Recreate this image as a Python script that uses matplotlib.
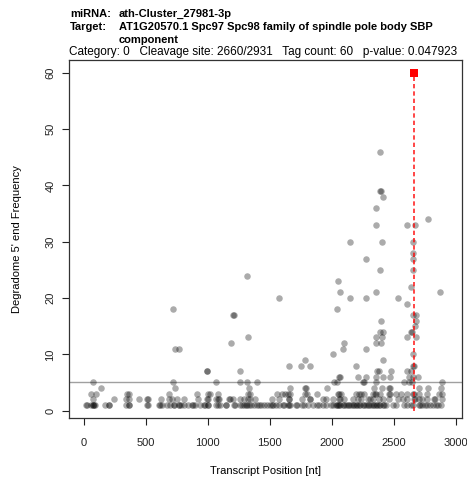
import matplotlib
matplotlib.use("Agg")
import matplotlib.pyplot as plt

plt.rcParams['font.family'] = ['Liberation Sans', 'DejaVu Sans']

# header info
mirna = "ath-Cluster_27981-3p"
target_lines = ["AT1G20570.1 Spc97 Spc98 family of spindle pole body SBP", "component"]
category = 0
cleavage_site = 2660
transcript_len = 2931
tag_count = 60
p_value = 0.047923
threshold = 5

# degradome tags: transcript positions grouped by 5' end frequency
pos_f1 = [21, 26, 54, 72, 75, 86, 89, 174, 201, 207, 341, 362, 365, 513, 518, 604, 612,
          630, 671, 698, 725, 730, 765, 770, 780, 805, 840, 872, 878, 899, 934, 966, 974,
          998, 1001, 1067, 1081, 1102, 1145, 1148, 1212, 1216, 1256, 1277, 1290, 1305,
          1320, 1336, 1350, 1371, 1395, 1417, 1430, 1457, 1478, 1498, 1516, 1524, 1551,
          1578, 1605, 1616, 1645, 1653, 1664, 1712, 1717, 1758, 1779, 1806, 1846, 1881,
          1900, 1927, 1954, 1990, 2008, 2034, 2040, 2050, 2061, 2070, 2088, 2100, 2115,
          2130, 2142, 2155, 2168, 2180, 2195, 2205, 2222, 2230, 2249, 2260, 2276, 2290,
          2303, 2315, 2329, 2340, 2356, 2365, 2383, 2390, 2410, 2420, 2437, 2496, 2517,
          2585, 2611, 2638, 2657, 2700, 2715, 2732, 2750, 2772, 2790, 2813, 2840, 2860,
          2880]
pos_f2 = [70, 247, 340, 365, 443, 513, 518, 620, 684, 714, 751, 808, 921, 990, 1001,
          1067, 1081, 1094, 1175, 1181, 1200, 1256, 1296, 1323, 1339, 1382, 1516, 1578,
          1653, 1658, 1758, 1822, 1826, 1932, 1954, 2008, 2061, 2066, 2102, 2168, 2208,
          2235, 2290, 2310, 2329, 2383, 2410, 2464, 2531, 2571, 2611, 2662, 2668, 2705,
          2732, 2772, 2826, 2830, 2893]
pos_f3 = [54, 98, 349, 367, 688, 910, 1001, 1017, 1081, 1325, 1339, 1556, 1597, 1620,
          1650, 1664, 1784, 1800, 1878, 2048, 2061, 2075, 2195, 2220, 2235, 2262, 2329,
          2350, 2356, 2392, 2464, 2468, 2520, 2560, 2611, 2655, 2665, 2705, 2772, 2866,
          2890]
pos_f4 = [139, 737, 1336, 1667, 1785, 1790, 1965, 2340, 2405, 2461, 2466, 2702, 2775,
          2882]
pos_f5 = [72, 722, 1063, 1256, 1318, 1395, 2021, 2042, 2249, 2263, 2356, 2585, 2620,
          2650, 2888]
pos_f6 = [2061, 2065, 2214, 2276, 2356, 2410, 2469, 2620, 2657, 2692]
pos_f7 = [990, 995, 1256, 2364, 2383, 2477, 2611, 2640]
pos_f8 = [1653, 1755, 1822, 2195, 2657, 2660]
pos_f9 = [1787, 2413]
pos_f10 = [2008, 2657]
pos_f11 = [733, 770, 2093, 2276]
pos_f12 = [1189, 2096, 2354, 2399]
pos_f13 = [1323, 2354, 2402, 2603, 2676]
pos_f14 = [2386, 2410, 2636, 2650]
pos_f15 = [2668]
pos_f16 = [2399, 2678]
pos_f17 = [1200, 1210, 2657, 2677]
pos_f18 = [722, 2040]
pos_f19 = [2611]
pos_f20 = [1578, 2147, 2273, 2534]
pos_f21 = [2067, 2354, 2872]
pos_f22 = [2641]
pos_f23 = [2048]
pos_f24 = [1318]
pos_f25 = [2391, 2654]
pos_f27 = [2273, 2657]
pos_f28 = [2657]
pos_f30 = [2147, 2402, 2657]
pos_f33 = [2354, 2609, 2668]
pos_f34 = [2778]
pos_f36 = [2354]
pos_f38 = [2413]
pos_f39 = [2391, 2395]
pos_f46 = [2391]

groups = {1: pos_f1, 2: pos_f2, 3: pos_f3, 4: pos_f4, 5: pos_f5, 6: pos_f6, 7: pos_f7,
          8: pos_f8, 9: pos_f9, 10: pos_f10, 11: pos_f11, 12: pos_f12, 13: pos_f13,
          14: pos_f14, 15: pos_f15, 16: pos_f16, 17: pos_f17, 18: pos_f18, 19: pos_f19,
          20: pos_f20, 21: pos_f21, 22: pos_f22, 23: pos_f23, 24: pos_f24, 25: pos_f25,
          27: pos_f27, 28: pos_f28, 30: pos_f30, 33: pos_f33, 34: pos_f34, 36: pos_f36,
          38: pos_f38, 39: pos_f39, 46: pos_f46}

xs, ys = [], []
for f, plist in groups.items():
    xs += plist
    ys += [f] * len(plist)

W, H = 467, 483
fig = plt.figure(figsize=(W / 100, H / 100), dpi=100)
left, right, top, bottom = 69.3, 461.7, 59.5, 418.3
ax = fig.add_axes([left / W, 1 - bottom / H, (right - left) / W, (bottom - top) / H])

ax.scatter(xs, ys, s=22, color='black', alpha=0.33, linewidths=0, zorder=2)
ax.axhline(threshold, color='#a0a0a0', lw=1, zorder=1)
ax.vlines(cleavage_site, 0, tag_count, colors='red', linestyles=(0, (2.6, 1.8)),
          lw=1.2, alpha=0.85, zorder=3)
ax.plot([cleavage_site], [tag_count], 's', color='red', ms=6, mew=0, zorder=4)

# R-like 4% padding
xr = transcript_len
ax.set_xlim(-0.04 * xr, xr * 1.04)
yr = tag_count - 1
ax.set_ylim(1 - 0.04 * yr, tag_count + 0.04 * yr)

ax.set_xticks([0, 500, 1000, 1500, 2000, 2500, 3000])
ax.set_yticks([0, 10, 20, 30, 40, 50, 60])
ax.tick_params(axis='both', direction='out', length=5, width=0.8, labelsize=8,
               colors='#222222')
ax.tick_params(axis='x', pad=9)
ax.tick_params(axis='y', pad=5)
for lab in ax.get_yticklabels():
    lab.set_rotation(90)
    lab.set_va('center')
for sp in ax.spines.values():
    sp.set_linewidth(0.9)
    sp.set_color('#333333')

ax.set_xlabel("Transcript Position [nt]", fontsize=8, labelpad=13)
ax.set_ylabel("Degradome 5' end Frequency", fontsize=8, labelpad=17)

# header block
fig.text(70 / W, 1 - 14 / H, "miRNA:", fontsize=8, fontweight='bold', va='center')
fig.text(119 / W, 1 - 14 / H, mirna, fontsize=8, fontweight='bold', va='center')
fig.text(70 / W, 1 - 27 / H, "Target:", fontsize=8, fontweight='bold', va='center')
fig.text(119 / W, 1 - 27 / H, target_lines[0], fontsize=8, fontweight='bold', va='center')
fig.text(119 / W, 1 - 40 / H, target_lines[1], fontsize=8, fontweight='bold', va='center')
info = (f"Category: {category}   Cleavage site: {cleavage_site}/{transcript_len}   "
        f"Tag count: {tag_count}   p-value: {p_value}")
fig.text(69 / W, 1 - 52 / H, info, fontsize=8.5, va='center')

fig.savefig("out.png", dpi=100)
